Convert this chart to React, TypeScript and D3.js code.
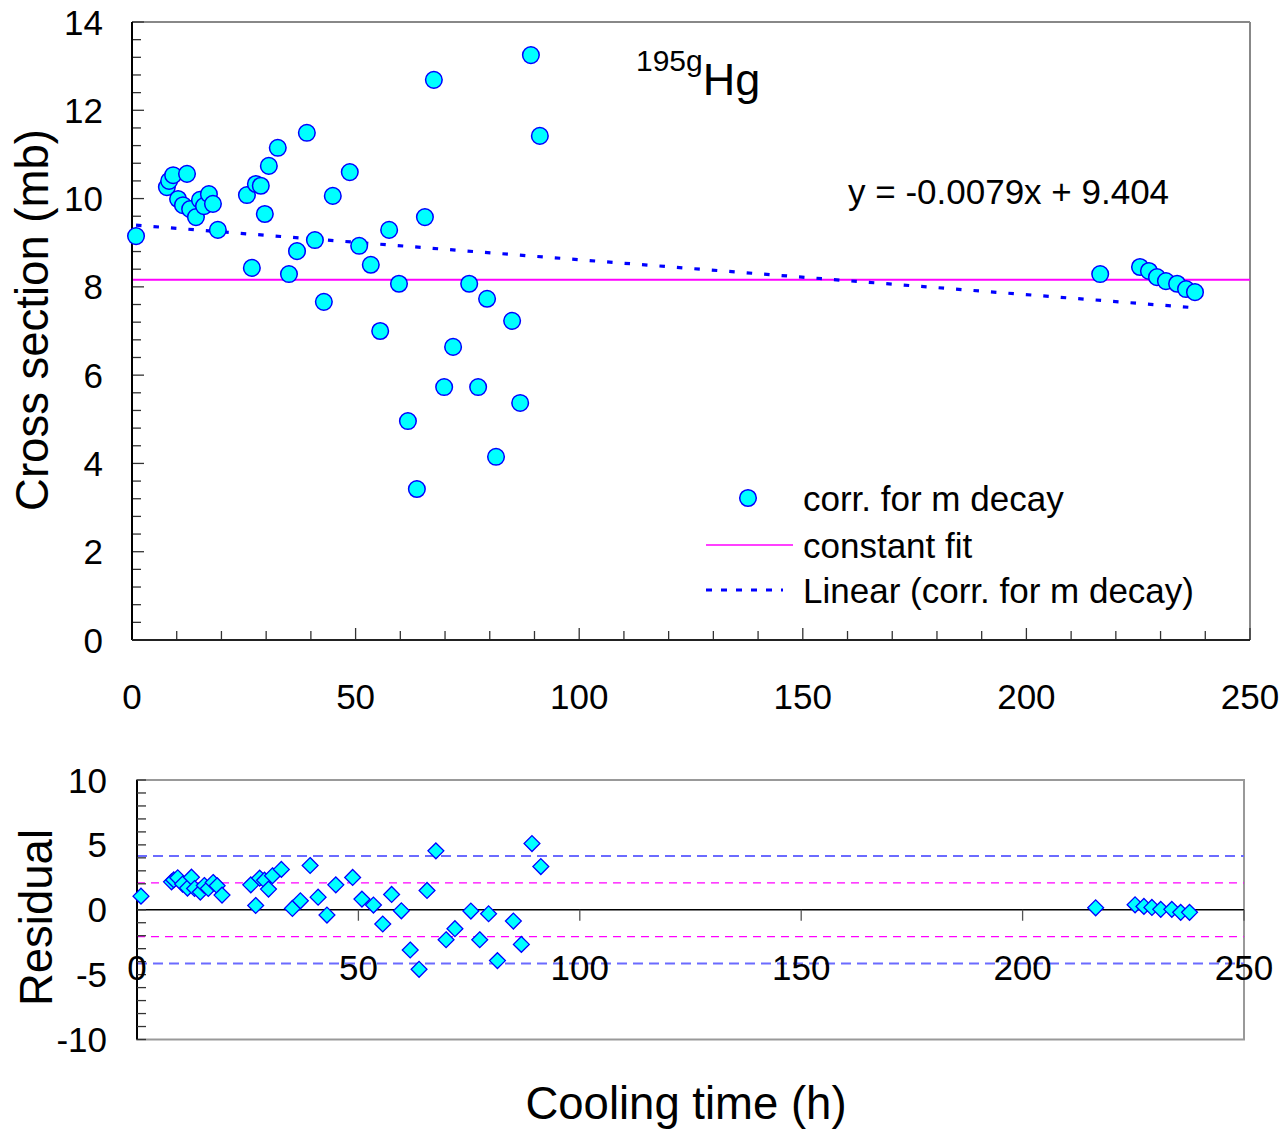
import React from "react";
import * as d3 from "d3";

// ---- data ----
const coolingTime = [
  0.9, 7.8, 8.3, 9.2, 10.3, 11.4, 12.3, 13.0, 14.3, 15.2, 16.1, 17.2, 18.1, 19.2,
  25.7, 26.8, 27.7, 28.8, 29.7, 30.6, 32.6, 35.1, 36.9, 39.1, 40.9, 42.9, 44.9,
  48.7, 50.8, 53.4, 55.5, 57.5, 59.7, 61.7, 63.7, 65.5, 67.5, 69.8, 71.8, 75.4,
  77.4, 79.4, 81.4, 85.0, 86.8, 89.2, 91.2,
  216.5, 225.4, 227.4, 229.2, 231.2, 233.7, 235.7, 237.7,
];
const crossSection = [
  9.15, 10.26, 10.4, 10.53, 9.99, 9.85, 10.56, 9.76, 9.58, 9.97, 9.83, 10.1, 9.88, 9.29,
  10.08, 8.43, 10.33, 10.29, 9.65, 10.74, 11.15, 8.29, 8.81, 11.49, 9.06, 7.66, 10.06,
  10.6, 8.93, 8.5, 7.0, 9.29, 8.07, 4.96, 3.42, 9.58, 12.69, 5.73, 6.64, 8.07,
  5.73, 7.73, 4.15, 7.23, 5.37, 13.25, 11.42,
  8.29, 8.45, 8.36, 8.22, 8.13, 8.07, 7.95, 7.88,
];
const residual = [
  1.05, 2.15, 2.3, 2.46, 1.98, 1.67, 2.51, 1.64, 1.36, 1.87, 1.64, 2.1, 1.85, 1.13,
  1.92, 0.33, 2.44, 2.28, 1.59, 2.62, 3.11, 0.1, 0.69, 3.41, 0.97, -0.41, 1.92,
  2.49, 0.82, 0.36, -1.1, 1.18, -0.08, -3.1, -4.59, 1.49, 4.54, -2.31, -1.46, -0.1,
  -2.31, -0.31, -3.92, -0.87, -2.67, 5.1, 3.33,
  0.15, 0.38, 0.26, 0.18, 0.03, 0.03, -0.2, -0.2,
];
const constantFit = 8.16;
const trendSlope = -0.0079;
const trendIntercept = 9.404;
const sigmaBand = [2.07, 4.14];
const topYTicks = [0, 2, 4, 6, 8, 10, 12, 14];
const xTicks = [0, 50, 100, 150, 200, 250];
const botYTicks = [-10, -5, 0, 5, 10];
const legendLabels = ["corr. for m decay", "constant fit", "Linear (corr. for m decay)"];
const equationText = "y = -0.0079x + 9.404";

const FONT = "'Liberation Sans', Arial, sans-serif";
const TICK_FS = 35;
const TITLE_FS = 45.5;

export default function App() {
  const W = 1281, H = 1129;
  // top chart
  const xT = d3.scaleLinear().domain([0, 250]).range([132, 1250]);
  const yT = d3.scaleLinear().domain([0, 14]).range([640, 22]);
  // bottom chart
  const xB = d3.scaleLinear().domain([0, 250]).range([137, 1244]);
  const yB = d3.scaleLinear().domain([-10, 10]).range([1039.5, 780]);

  const pts = coolingTime.map((t, i) => ({ t, y: crossSection[i], r: residual[i] }));
  const xMin = d3.min(coolingTime) as number;
  const xMax = d3.max(coolingTime) as number;
  const trendLine = d3.line<number>()
    .x((t) => xT(t))
    .y((t) => yT(trendSlope * t + trendIntercept));

  const topMinorY = d3.range(0, 14.001, 0.4);
  const topMinorX = d3.range(0, 250.001, 10);
  const botMinorY = d3.range(-10, 10.001, 1);

  const diamond = d3.symbol().type(d3.symbolDiamond2).size(160)();

  const isMajor = (v: number, step: number) => {
    const r = Math.abs(v % step);
    return r < 0.01 || Math.abs(r - step) < 0.01;
  };

  return (
    <div style={{ position: "absolute", left: 0, top: 0 }}>
      <svg width={W} height={H} style={{ display: "block", background: "#fff" }} fontFamily={FONT}>
        {/* ===== TOP CHART ===== */}
        <line x1={xT(0)} x2={xT(250)} y1={yT(14)} y2={yT(14)} stroke="#888" strokeWidth={2} />
        <line x1={xT(250)} x2={xT(250)} y1={yT(14)} y2={yT(0)} stroke="#888" strokeWidth={2} />
        {topMinorY.map((v, i) => (
          <line key={"tmy" + i} x1={xT(0)} x2={xT(0) + (isMajor(v, 2) ? 12 : 9)}
            y1={yT(v)} y2={yT(v)} stroke="#333" strokeWidth={1.3} />
        ))}
        {topMinorX.map((v, i) => (
          <line key={"tmx" + i} x1={xT(v)} x2={xT(v)} y1={yT(0)} y2={yT(0) - (isMajor(v, 50) ? 12 : 9)}
            stroke="#333" strokeWidth={1.3} />
        ))}
        <line x1={xT(0)} x2={xT(250)} y1={yT(constantFit)} y2={yT(constantFit)} stroke="#FF00FF" strokeWidth={2} />
        <path d={trendLine([xMin, xMax]) || ""} fill="none" stroke="#0000FF" strokeWidth={3.2} strokeDasharray="5.5 12" />
        <line x1={xT(0)} x2={xT(0)} y1={yT(14)} y2={yT(0)} stroke="#000" strokeWidth={2} />
        <line x1={xT(0)} x2={xT(250)} y1={yT(0)} y2={yT(0)} stroke="#222" strokeWidth={2} />
        {pts.map((p, i) => (
          <circle key={"c" + i} cx={xT(p.t)} cy={yT(p.y)} r={8.3} fill="#00FFFF" stroke="#0000FF" strokeWidth={1.5} />
        ))}
        {topYTicks.map((v) => (
          <text key={"ty" + v} x={103} y={yT(v)} dy="0.36em" textAnchor="end" fontSize={TICK_FS}>{v}</text>
        ))}
        {xTicks.map((v) => (
          <text key={"tx" + v} x={xT(v)} y={696} dy="0.36em" textAnchor="middle" fontSize={TICK_FS}>{v}</text>
        ))}
        <text transform={`translate(48,320) rotate(-90)`} textAnchor="middle" fontSize={TITLE_FS}>Cross section (mb)</text>
        <text x={636} y={95} fontSize={45}>
          <tspan fontSize={30} dy={-24}>195g</tspan>
          <tspan dy={24}>Hg</tspan>
        </text>
        <text x={848} y={204} fontSize={35}>{equationText}</text>
        {/* legend */}
        <circle cx={748} cy={498} r={8.3} fill="#00FFFF" stroke="#0000FF" strokeWidth={1.5} />
        <text x={803} y={498} dy="0.36em" fontSize={35}>{legendLabels[0]}</text>
        <line x1={706} x2={793} y1={545} y2={545} stroke="#FF00FF" strokeWidth={1.5} />
        <text x={803} y={545} dy="0.36em" fontSize={35}>{legendLabels[1]}</text>
        <line x1={706} x2={783} y1={590} y2={590} stroke="#0000FF" strokeWidth={3.2} strokeDasharray="6 9" />
        <text x={803} y={590} dy="0.36em" fontSize={35}>{legendLabels[2]}</text>

        {/* ===== BOTTOM CHART ===== */}
        <rect x={xB(0)} y={yB(10)} width={xB(250) - xB(0)} height={yB(-10) - yB(10)} fill="none" stroke="#999" strokeWidth={2} />
        {sigmaBand.map((s, i) => (
          <g key={"sb" + i}>
            <line x1={xB(0)} x2={xB(250)} y1={yB(s)} y2={yB(s)}
              stroke={i === 0 ? "#FF00FF" : "#6B6BFF"} strokeWidth={i === 0 ? 1.3 : 2} strokeDasharray={i === 0 ? "8 6" : "10 6"} />
            <line x1={xB(0)} x2={xB(250)} y1={yB(-s)} y2={yB(-s)}
              stroke={i === 0 ? "#FF00FF" : "#6B6BFF"} strokeWidth={i === 0 ? 1.3 : 2} strokeDasharray={i === 0 ? "8 6" : "10 6"} />
          </g>
        ))}
        <line x1={xB(0)} x2={xB(250)} y1={yB(0)} y2={yB(0)} stroke="#000" strokeWidth={1.5} />
        {xTicks.filter((v) => v > 0).map((v) => (
          <line key={"bxt" + v} x1={xB(v)} x2={xB(v)} y1={yB(0)} y2={yB(0) + 11} stroke="#555" strokeWidth={1.3} />
        ))}
        <line x1={xB(0)} x2={xB(0)} y1={yB(10)} y2={yB(-10)} stroke="#000" strokeWidth={2} />
        {botMinorY.map((v, i) => (
          <line key={"bmy" + i} x1={xB(0)} x2={xB(0) + 9} y1={yB(v)} y2={yB(v)} stroke="#333" strokeWidth={1.3} />
        ))}
        {xTicks.map((v) => (
          <text key={"bx" + v} x={xB(v)} y={967} dy="0.36em" textAnchor="middle" fontSize={TICK_FS}>{v}</text>
        ))}
        {botYTicks.map((v) => (
          <text key={"by" + v} x={107} y={yB(v)} dy="0.36em" textAnchor="end" fontSize={TICK_FS}>{v}</text>
        ))}
        {pts.map((p, i) => (
          <path key={"d" + i} d={diamond || ""} transform={`translate(${xB(p.t)},${yB(p.r)})`}
            fill="#00FFFF" stroke="#0000FF" strokeWidth={1.3} />
        ))}
        <text transform={`translate(52,${yB(-0.6)}) rotate(-90)`} textAnchor="middle" fontSize={TITLE_FS}>Residual</text>
        <text x={686} y={1103} dy="0.36em" textAnchor="middle" fontSize={TITLE_FS}>Cooling time (h)</text>
      </svg>
    </div>
  );
}
